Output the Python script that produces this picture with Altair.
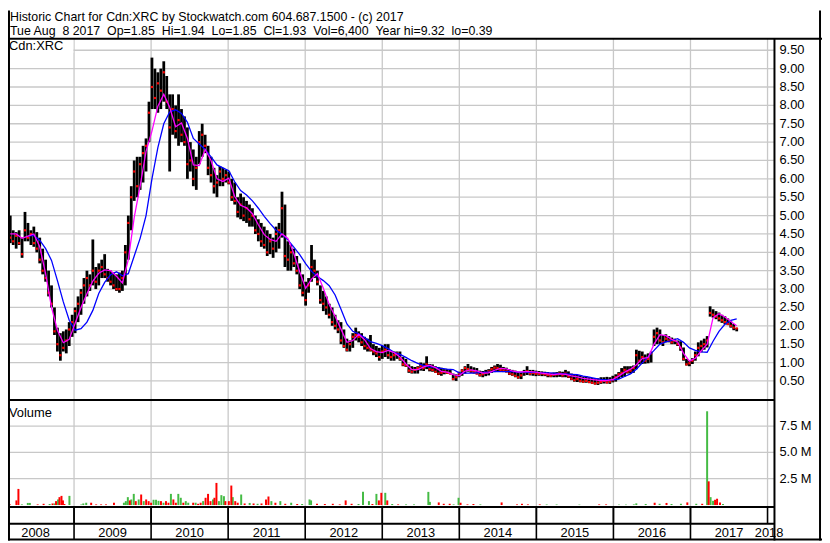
import altair as alt
import pandas as pd

# ---------------- text ----------------
TITLE_1 = "Historic Chart for Cdn:XRC by Stockwatch.com 604.687.1500 - (c) 2017"
TITLE_2 = "Tue Aug  8 2017  Op=1.85  Hi=1.94  Lo=1.85  Cl=1.93  Vol=6,400  Year hi=9.32  lo=0.39"
SYMBOL = "Cdn:XRC"
VOLUME_LABEL = "Volume"

# ---------------- price bars (every 14 days) ----------------
BAR_START = "2008-03-04"
HIGH = [5.0, 4.6, 4.55, 4.6, 4.4, 5.1, 4.8, 4.6, 4.7, 4.55,
        4.4, 4.1, 3.8, 3.5, 3.1, 2.5, 1.95, 1.8, 1.85, 1.9,
        2.1, 2.3, 2.5, 2.8, 3.0, 3.3, 3.5, 3.4, 4.35, 3.6,
        3.7, 3.8, 3.95, 3.55, 3.5, 3.45, 3.4, 3.45, 3.5, 4.2,
        5.0, 5.8, 6.5, 6.6, 6.6, 6.9, 7.1, 8.1, 9.3, 9.0,
        8.9, 9.0, 9.2, 8.8, 8.3, 8.3, 8.0, 8.3, 7.9, 7.7,
        7.4, 7.0, 6.8, 6.6, 7.3, 7.5, 7.2, 6.9, 6.6, 6.3,
        6.1, 6.35, 6.3, 6.25, 6.2, 6.0, 5.9, 5.5, 5.6, 5.5,
        5.4, 5.3, 5.2, 5.0, 4.9, 4.8, 4.7, 4.6, 4.5, 4.4,
        4.7, 4.8, 5.65, 5.3, 4.3, 4.2, 4.1, 3.9, 3.7, 3.4,
        3.2, 3.3, 4.2, 3.8, 3.5, 3.1, 2.95, 2.8, 2.6, 2.5,
        2.3, 2.15, 2.1, 1.9, 1.65, 1.6, 1.8, 1.95, 1.85, 1.8,
        1.7, 1.65, 1.75, 1.5, 1.45, 1.4, 1.45, 1.5, 1.5, 1.3,
        1.3, 1.3, 1.3, 1.15, 1.1, 0.95, 0.9, 0.88, 0.9, 1.0,
        0.98, 1.17, 0.96, 0.95, 0.9, 0.88, 0.86, 0.82, 0.82, 0.8,
        0.7, 0.68, 0.75, 0.82, 0.9, 0.96, 0.9, 0.87, 0.85, 0.78,
        0.77, 0.8, 0.82, 0.88, 0.92, 0.96, 0.94, 0.88, 0.86, 0.82,
        0.8, 0.78, 0.74, 0.73, 0.8, 0.9, 0.8, 0.8, 0.78, 0.77,
        0.76, 0.75, 0.74, 0.72, 0.73, 0.74, 0.76, 0.75, 0.8, 0.76,
        0.7, 0.68, 0.66, 0.65, 0.62, 0.63, 0.6, 0.58, 0.58, 0.57,
        0.6, 0.6, 0.61, 0.6, 0.64, 0.68, 0.74, 0.85, 0.9, 0.9,
        0.9, 0.92, 1.35, 1.32, 1.3, 1.22, 1.25, 1.3, 1.9, 1.95,
        1.9, 1.75, 1.77, 1.72, 1.68, 1.65, 1.6, 1.58, 1.41, 1.1,
        1.05, 1.12, 1.3, 1.55, 1.6, 1.65, 1.72, 2.53, 2.45, 2.4,
        2.36, 2.3, 2.26, 2.2, 2.12, 2.05, 1.94]
LOW = [4.25, 4.2, 4.1, 4.2, 3.85, 4.3, 4.3, 4.2, 4.15, 4.0,
       3.7, 3.4, 3.2, 2.8, 2.5, 1.75, 1.3, 1.05, 1.3, 1.25,
       1.45, 1.7, 1.8, 2.1, 2.3, 2.6, 2.8, 2.95, 3.1, 3.0,
       3.1, 3.3, 3.3, 3.2, 3.1, 3.0, 2.95, 2.9, 2.95, 3.1,
       3.8, 4.6, 5.4, 5.5, 5.7, 5.9, 6.2, 7.0, 7.9, 7.9,
       7.8, 7.9, 8.1, 7.9, 6.2, 7.2, 7.1, 6.9, 7.0, 6.9,
       6.0, 6.2, 5.8, 5.7, 6.4, 6.6, 6.7, 6.1, 5.9, 5.6,
       5.5, 5.8, 5.8, 5.9, 5.85, 5.4, 5.3, 4.95, 4.9, 4.85,
       4.8, 4.7, 4.7, 4.5, 4.3, 4.15, 4.1, 3.9, 3.95, 3.85,
       4.0, 4.1, 4.4, 3.6, 3.5, 3.5, 3.6, 3.4, 3.0, 2.8,
       2.55, 2.9, 3.2, 3.3, 3.1, 2.6, 2.4, 2.3, 2.2, 2.0,
       1.9, 1.8, 1.5, 1.4, 1.3, 1.3, 1.4, 1.6, 1.55, 1.45,
       1.35, 1.3, 1.3, 1.2, 1.15, 1.05, 1.1, 1.15, 1.1, 1.05,
       1.05, 1.1, 1.05, 0.9, 0.88, 0.72, 0.7, 0.7, 0.7, 0.78,
       0.77, 0.82, 0.76, 0.75, 0.72, 0.66, 0.64, 0.68, 0.69, 0.68,
       0.52, 0.5, 0.6, 0.64, 0.7, 0.75, 0.72, 0.7, 0.68, 0.62,
       0.6, 0.63, 0.65, 0.72, 0.74, 0.77, 0.76, 0.74, 0.73, 0.66,
       0.64, 0.6, 0.56, 0.55, 0.64, 0.66, 0.65, 0.64, 0.63, 0.64,
       0.63, 0.63, 0.6, 0.6, 0.6, 0.6, 0.61, 0.6, 0.6, 0.58,
       0.52, 0.48, 0.47, 0.46, 0.45, 0.45, 0.44, 0.42, 0.4, 0.39,
       0.42, 0.43, 0.43, 0.42, 0.46, 0.48, 0.55, 0.6, 0.62, 0.7,
       0.7, 0.72, 0.82, 0.95, 0.96, 0.97, 0.98, 1.0, 1.45, 1.5,
       1.5, 1.45, 1.55, 1.55, 1.5, 1.5, 1.45, 1.32, 1.05, 0.92,
       0.9, 0.96, 1.05, 1.17, 1.28, 1.35, 1.41, 2.25, 2.22, 2.18,
       2.12, 2.08, 2.04, 2.02, 1.95, 1.88, 1.85]
CLOSE = [4.4, 4.3, 4.45, 4.25, 3.95, 4.6, 4.4, 4.5, 4.25, 4.1,
         3.8, 3.5, 3.3, 2.9, 2.6, 1.85, 1.5, 1.2, 1.4, 1.6,
         1.9, 2.1, 2.4, 2.6, 2.9, 3.1, 3.3, 3.1, 3.5, 3.2,
         3.5, 3.6, 3.4, 3.3, 3.2, 3.1, 3.0, 3.0, 3.3, 4.0,
         4.8, 5.5, 6.2, 5.8, 6.4, 6.7, 6.9, 7.8, 8.5, 8.2,
         8.6, 8.4, 8.9, 8.1, 7.4, 7.9, 7.3, 7.6, 7.2, 7.0,
         6.4, 6.5, 6.0, 6.3, 7.0, 7.2, 6.9, 6.3, 6.1, 5.8,
         5.9, 6.2, 6.0, 6.1, 5.9, 5.5, 5.4, 5.1, 5.3, 5.0,
         5.2, 4.9, 5.0, 4.6, 4.5, 4.3, 4.2, 4.0, 4.3, 4.1,
         4.5, 4.6, 5.2, 3.9, 3.8, 4.0, 3.7, 3.5, 3.1, 2.9,
         2.7, 3.1, 3.6, 3.5, 3.2, 2.7, 2.6, 2.5, 2.3, 2.1,
         2.0, 1.9, 1.6, 1.45, 1.35, 1.5, 1.7, 1.75, 1.7, 1.55,
         1.45, 1.4, 1.35, 1.3, 1.25, 1.15, 1.3, 1.35, 1.2, 1.15,
         1.2, 1.25, 1.1, 0.95, 0.92, 0.78, 0.75, 0.8, 0.85, 0.9,
         0.85, 0.95, 0.82, 0.8, 0.75, 0.7, 0.72, 0.75, 0.72, 0.7,
         0.55, 0.6, 0.7, 0.78, 0.85, 0.82, 0.78, 0.75, 0.7, 0.66,
         0.68, 0.72, 0.76, 0.82, 0.86, 0.85, 0.8, 0.78, 0.76, 0.7,
         0.68, 0.64, 0.6, 0.65, 0.74, 0.76, 0.7, 0.72, 0.7, 0.69,
         0.7, 0.68, 0.66, 0.64, 0.67, 0.68, 0.7, 0.65, 0.7, 0.62,
         0.56, 0.52, 0.55, 0.5, 0.48, 0.5, 0.47, 0.45, 0.43, 0.45,
         0.47, 0.5, 0.46, 0.48, 0.52, 0.6, 0.68, 0.72, 0.8, 0.75,
         0.78, 0.85, 1.2, 1.05, 1.15, 1.05, 1.1, 1.25, 1.7, 1.8,
         1.6, 1.55, 1.65, 1.6, 1.55, 1.6, 1.5, 1.4, 1.1, 0.95,
         0.98, 1.05, 1.2, 1.4, 1.45, 1.5, 1.6, 2.35, 2.3, 2.25,
         2.2, 2.15, 2.1, 2.05, 2.0, 1.95, 1.93]
# moving averages, read at every second bar (slow one starts at bar 6)
MA_FAST = [4.5, 4.5, 4.38, 4.44, 4.5, 4.15, 3.42, 2.5, 1.88, 1.54,
           1.63, 2.07, 2.5, 2.87, 3.22, 3.43, 3.52, 3.5, 3.35, 3.17,
           3.8, 4.95, 5.8, 6.75, 7.3, 7.98, 8.3, 7.95, 7.42, 7.52,
           7.1, 6.38, 6.36, 6.8, 6.5, 6.0, 5.93, 6.02, 5.52, 5.28,
           5.21, 5.05, 4.75, 4.48, 4.35, 4.3, 4.5, 4.38, 3.97, 3.47,
           3.02, 3.27, 3.42, 3.02, 2.58, 2.26, 1.91, 1.55, 1.6, 1.77,
           1.62, 1.38, 1.3, 1.27, 1.33, 1.27, 1.15, 0.96, 0.81, 0.81,
           0.88, 0.93, 0.86, 0.76, 0.74, 0.67, 0.64, 0.77, 0.8, 0.77,
           0.71, 0.72, 0.79, 0.84, 0.83, 0.77, 0.74, 0.75, 0.75, 0.74,
           0.71, 0.69, 0.67, 0.69, 0.68, 0.64, 0.61, 0.57, 0.55, 0.53,
           0.51, 0.51, 0.54, 0.63, 0.74, 0.82, 0.94, 1.11, 1.14, 1.5,
           1.76, 1.73, 1.63, 1.56, 1.25, 1.04, 1.12, 1.32, 1.5, 2.22,
           2.33, 2.24, 2.12, 2.0]
MA_SLOW = [4.44, 4.46, 4.33, 4.1, 3.78, 3.23, 2.65, 2.15, 1.88, 1.92,
           2.1, 2.42, 2.88, 3.18, 3.39, 3.47, 3.36, 3.42, 3.9, 4.38,
           5.0, 6.0, 6.85, 7.5, 7.82, 7.88, 7.78, 7.54, 7.1, 6.95,
           6.8, 6.6, 6.38, 6.3, 6.22, 5.92, 5.68, 5.56, 5.4, 5.2,
           4.98, 4.78, 4.6, 4.49, 4.34, 4.14, 3.94, 3.69, 3.48, 3.34,
           3.23, 3.09, 2.84, 2.45, 2.05, 1.85, 1.78, 1.68, 1.57, 1.52,
           1.46, 1.38, 1.28, 1.22, 1.14, 1.05, 0.98, 0.92, 0.88, 0.87,
           0.84, 0.82, 0.81, 0.72, 0.71, 0.71, 0.72, 0.73, 0.74, 0.75,
           0.75, 0.75, 0.75, 0.74, 0.74, 0.73, 0.73, 0.72, 0.72, 0.71,
           0.7, 0.69, 0.68, 0.67, 0.63, 0.6, 0.57, 0.54, 0.53, 0.53,
           0.55, 0.62, 0.69, 0.82, 0.99, 1.16, 1.33, 1.5, 1.56, 1.6,
           1.65, 1.55, 1.4, 1.33, 1.29, 1.28, 1.58, 1.85, 2.04, 2.15, 2.19]

# ---------------- volume (decimal year, millions, up-day flag) ----------------
VOL_TIME = [2008.168, 2008.252, 2008.278, 2008.323, 2008.400, 2008.426, 2008.528, 2008.605, 2008.683,
            2008.721, 2008.747, 2008.766, 2008.792, 2008.811, 2008.837, 2008.856, 2008.875, 2008.940,
            2009.094, 2009.120, 2009.158, 2009.222, 2009.287, 2009.351, 2009.415, 2009.518, 2009.647,
            2009.672, 2009.698, 2009.724, 2009.743, 2009.775, 2009.801, 2009.839, 2009.871, 2009.904,
            2009.936, 2009.968,
            2010.000, 2010.032, 2010.064, 2010.096, 2010.128, 2010.161, 2010.193, 2010.225, 2010.257,
            2010.289, 2010.321, 2010.353, 2010.385, 2010.418, 2010.450, 2010.482, 2010.546, 2010.578,
            2010.610, 2010.643, 2010.675, 2010.707, 2010.739, 2010.771, 2010.803, 2010.822, 2010.848,
            2010.880, 2010.912, 2010.945, 2010.964,
            2011.009, 2011.041, 2011.060, 2011.092, 2011.124, 2011.169, 2011.214, 2011.279, 2011.330,
            2011.382, 2011.433, 2011.491, 2011.523, 2011.561, 2011.613, 2011.677, 2011.741, 2011.818,
            2011.896, 2011.960,
            2012.056, 2012.076, 2012.153, 2012.255, 2012.358, 2012.448, 2012.525, 2012.602, 2012.692,
            2012.750, 2012.827, 2012.872, 2012.924, 2012.956, 2012.988,
            2013.039, 2013.065, 2013.129, 2013.206, 2013.309, 2013.412, 2013.598, 2013.618, 2013.733,
            2013.798, 2013.875, 2013.926, 2013.990,
            2014.016, 2014.106, 2014.183, 2014.273, 2014.549, 2014.749, 2014.813, 2014.890,
            2015.044, 2015.134, 2015.263, 2015.558, 2015.815, 2015.905,
            2016.072, 2016.162, 2016.265, 2016.297, 2016.419, 2016.535, 2016.599, 2016.689, 2016.754,
            2016.876, 2016.959,
            2017.075, 2017.152, 2017.216, 2017.236, 2017.261, 2017.293, 2017.319, 2017.345, 2017.383,
            2017.422]
VOL_M = [0.06, 0.44, 1.53, 0.06, 0.2, 0.2, 0.06, 0.12, 0.1, 0.15, 0.15, 0.37, 0.53, 0.75, 0.87, 0.44, 0.1, 0.87,
         0.05, 0.15, 0.22, 0.22, 0.06, 0.06, 0.06, 0.22, 0.22, 0.37, 0.75, 0.44, 0.53, 1.06, 0.37, 0.53, 1.0,
         0.37, 0.53, 0.37,
         0.22, 0.5, 0.5, 0.4, 0.37, 0.22, 0.37, 0.22, 1.06, 0.53, 0.22, 1.06, 0.69, 0.22, 0.37, 0.22, 0.22,
         0.22, 0.12, 0.22, 0.37, 0.69, 1.06, 0.37, 0.53, 0.69, 2.1, 0.37, 0.94, 0.84, 0.37,
         0.37, 1.85, 0.75, 0.37, 0.22, 1.0, 0.15, 0.2, 0.15, 0.12, 0.15, 0.53, 0.81, 0.37, 0.22, 0.37, 0.12,
         0.22, 0.1, 0.1,
         0.53, 0.44, 0.12, 0.1, 0.12, 0.06, 0.44, 0.12, 0.1, 1.25, 0.37, 0.1, 1.06, 0.44, 1.16,
         1.16, 0.44, 0.1, 0.06, 0.06, 0.06, 1.25, 0.3, 0.25, 0.12, 0.12, 0.06, 0.69,
         0.22, 0.06, 0.1, 0.06, 0.25, 0.06, 0.12, 0.06,
         0.06, 0.05, 0.05, 0.04, 0.06, 0.06,
         0.04, 0.04, 0.06, 0.16, 0.1, 0.22, 0.12, 0.2, 0.1, 0.12, 0.25,
         0.12, 0.12, 8.9, 2.25, 0.75, 0.4, 0.5, 0.6, 0.25, 0.1]
VOL_UP = [0, 0, 0, 1, 1, 1, 0, 0, 1, 0, 1, 0, 1, 0, 0, 0, 0, 1,
          1, 1, 1, 0, 0, 0, 0, 0, 1, 1, 1, 0, 1, 1, 0, 1, 0, 1, 0, 0,
          0, 1, 1, 1, 0, 1, 0, 0, 1, 0, 0, 1, 1, 0, 1, 1, 0, 1, 0, 0, 1, 0, 0, 0, 1, 0, 0, 1, 1, 1, 0,
          0, 0, 1, 0, 0, 1, 0, 1, 0, 1, 0, 0, 0, 1, 0, 1, 0, 1, 0, 1,
          1, 1, 0, 0, 0, 0, 0, 0, 1, 1, 1, 0, 1, 0, 0,
          1, 0, 1, 0, 1, 1, 1, 1, 0, 0, 0, 1, 1,
          0, 0, 0, 1, 0, 0, 0, 0,
          0, 1, 1, 1, 0, 0,
          1, 1, 1, 1, 1, 0, 1, 0, 1, 1, 0,
          1, 0, 1, 0, 1, 1, 0, 0, 0, 1]

PRICE_TICKS = [0.5, 1.0, 1.5, 2.0, 2.5, 3.0, 3.5, 4.0, 4.5, 5.0,
               5.5, 6.0, 6.5, 7.0, 7.5, 8.0, 8.5, 9.0, 9.5]
VOL_TICKS = [2.5, 5.0, 7.5]
VOL_TICK_LABELS = ["2.5 M", "5.0 M", "7.5 M"]
YEARS = [2008, 2009, 2010, 2011, 2012, 2013, 2014, 2015, 2016, 2017, 2018]

# ---------------- data frames ----------------
def dec_year(d):
    n = 366 if d.is_leap_year else 365
    return d.year + (d.dayofyear - 1) / n

dates = pd.date_range(BAR_START, periods=len(HIGH), freq="14D")
bars = pd.DataFrame({"t": [dec_year(d) for d in dates], "hi": HIGH, "lo": LOW, "cl": CLOSE})
fast = pd.DataFrame({"t": bars["t"].values[0::2], "v": MA_FAST})
slow = pd.DataFrame({"t": bars["t"].values[6::2], "v": MA_SLOW})
vol = pd.DataFrame({"t": VOL_TIME, "v": VOL_M, "up": VOL_UP})
vol_up = vol[vol["up"] == 1]
vol_dn = vol[vol["up"] == 0]
pgrid = pd.DataFrame({"p": PRICE_TICKS})
vgrid = pd.DataFrame({"v": VOL_TICKS, "label": VOL_TICK_LABELS})
bounds = pd.DataFrame({"t": [float(y) for y in YEARS[1:]]})
bounds_low = pd.DataFrame({"t": [float(y) for y in YEARS[1:-1]]})
ylabels = pd.DataFrame({"t": [y + 0.5 if y < YEARS[-1] else y + 0.02 for y in YEARS],
                        "label": [str(y) for y in YEARS]})
one = pd.DataFrame({"k": [0]})

# ---------------- layout (pixels) ----------------
W, H = 822, 535
FONT = "Liberation Sans"
GRID = "#c8c8c8"
XS = alt.Scale(domain=[2009, 2018], range=[66.7, 767.0], nice=False, zero=False)
PS = alt.Scale(domain=[0, 10], range=[392.5, 21.5], nice=False, zero=False)
VS = alt.Scale(domain=[0, 10], range=[499.3, 392.9], nice=False, zero=False)
AX_X = 774
RIGHT = 820
HEAD = 28.5

def X(f="t"):
    return alt.X(f"{f}:Q", scale=XS, axis=None)

def line(x, x2, y, y2, w=2.0, color="black"):
    return alt.Chart(one).mark_rule(color=color, strokeWidth=w).encode(
        x=alt.value(x), x2=alt.value(x2), y=alt.value(y), y2=alt.value(y2))

def label(txt, x, y, size=13, baseline="alphabetic"):
    return alt.Chart(one).mark_text(align="left", baseline=baseline, font=FONT,
                                    fontSize=size, color="black").encode(
        x=alt.value(x), y=alt.value(y), text=alt.value(txt))

layers = []
# grids
layers.append(alt.Chart(pgrid).mark_rule(color=GRID, strokeWidth=1.3).encode(
    y=alt.Y("p:Q", scale=PS, axis=None), x=alt.value(0), x2=alt.value(AX_X)))
layers.append(alt.Chart(vgrid).mark_rule(color=GRID, strokeWidth=1.3).encode(
    y=alt.Y("v:Q", scale=VS, axis=None), x=alt.value(0), x2=alt.value(AX_X)))
layers.append(alt.Chart(bounds).mark_rule(color=GRID, strokeWidth=1.3).encode(
    x=X(), y=alt.value(HEAD), y2=alt.value(501)))
# symbol box
layers.append(alt.Chart(one).mark_rect(color="white").encode(
    x=alt.value(0), x2=alt.value(66), y=alt.value(HEAD), y2=alt.value(42.5)))
# price bars
layers.append(alt.Chart(bars).mark_rule(color="black", strokeWidth=2.8).encode(
    x=X(), y=alt.Y("lo:Q", scale=PS, axis=None), y2="hi:Q"))
layers.append(alt.Chart(bars).mark_square(color="#ff0000", size=5, opacity=1).encode(
    x=X(), y=alt.Y("cl:Q", scale=PS, axis=None)))
layers.append(alt.Chart(slow).mark_line(color="#0000ff", strokeWidth=1.3).encode(
    x=X(), y=alt.Y("v:Q", scale=PS, axis=None)))
layers.append(alt.Chart(fast).mark_line(color="#ff00ff", strokeWidth=1.3).encode(
    x=X(), y=alt.Y("v:Q", scale=PS, axis=None)))
# volume
layers.append(alt.Chart(vol_up).mark_rule(color="#44bb44", strokeWidth=2).encode(
    x=X(), y=alt.Y("v:Q", scale=VS, axis=None), y2=alt.datum(0)))
layers.append(alt.Chart(vol_dn).mark_rule(color="#ff0000", strokeWidth=2).encode(
    x=X(), y=alt.Y("v:Q", scale=VS, axis=None), y2=alt.datum(0)))
# frame
layers += [
    line(1, 1, 0, H),
    line(RIGHT, RIGHT, 0, H),
    line(0, W, HEAD, HEAD),
    line(0, W, 534, 534),
    line(AX_X, AX_X, HEAD, H),
    line(0, AX_X, 393.3, 393.3),
    line(0, AX_X, 501.3, 501.3),
    line(0, AX_X, 518.3, 518.3),
]
layers.append(alt.Chart(bounds_low).mark_rule(color="black", strokeWidth=1.6).encode(
    x=X(), y=alt.value(501), y2=alt.value(534)))
layers.append(alt.Chart(bounds).mark_rule(color="black", strokeWidth=1.6).encode(
    x=X(), y=alt.value(501), y2=alt.value(518)))
# texts
layers.append(label(TITLE_1, 2, 10.4, 12.5))
layers.append(label(TITLE_2.replace("  ", " \u00a0"), 2, 24.4, 12.5))
layers.append(label(SYMBOL, 1, 40))
layers.append(label(VOLUME_LABEL, 1, 410.3))
layers.append(alt.Chart(pgrid).mark_text(align="left", baseline="middle", font=FONT,
                                         fontSize=13, color="black").encode(
    x=alt.value(779), y=alt.Y("p:Q", scale=PS, axis=None), text=alt.Text("p:Q", format=".2f")))
layers.append(alt.Chart(vgrid).mark_text(align="left", baseline="middle", font=FONT,
                                         fontSize=13, color="black").encode(
    x=alt.value(779), y=alt.Y("v:Q", scale=VS, axis=None), text="label:N"))
layers.append(alt.Chart(ylabels).mark_text(align="center", baseline="alphabetic", font=FONT,
                                           fontSize=13, color="black").encode(
    x=X(), y=alt.value(532), text="label:N"))

chart = alt.layer(*layers).resolve_scale(y="independent").properties(
    width=W, height=H, padding=0, background="white",
    autosize=alt.AutoSizeParams(type="none"),
).configure_view(stroke=None)

chart.save("out.html", embed_options={"renderer": "svg", "actions": False})
